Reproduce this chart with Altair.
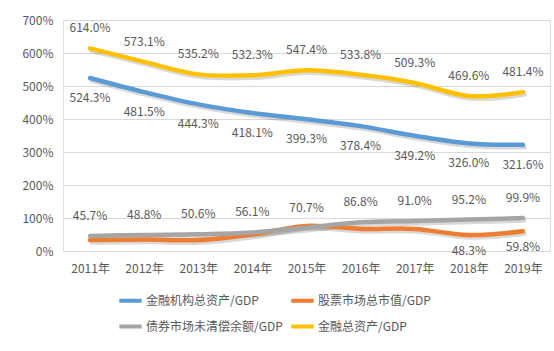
import altair as alt
import pandas as pd

years = ["2011年", "2012年", "2013年", "2014年", "2015年", "2016年", "2017年", "2018年", "2019年"]
series_names = ["金融机构总资产/GDP", "股票市场总市值/GDP", "债券市场未清偿余额/GDP", "金融总资产/GDP"]
colors = ["#5B9BD5", "#ED7D31", "#A5A5A5", "#FFC000"]

inst_assets = [524.3, 481.5, 444.3, 418.1, 399.3, 378.4, 349.2, 326.0, 321.6]
stock_cap = [33.0, 35.0, 33.0, 50.0, 76.0, 67.0, 67.0, 48.3, 59.8]
bond_out = [45.7, 48.8, 50.6, 56.1, 70.7, 86.8, 91.0, 95.2, 99.9]
fin_assets = [614.0, 573.1, 535.2, 532.3, 547.4, 533.8, 509.3, 469.6, 481.4]

# which points carry a data label
stock_labeled = [False] * 7 + [True, True]

rows = []
for name, vals, lab in [
    (series_names[0], inst_assets, [True] * 9),
    (series_names[1], stock_cap, stock_labeled),
    (series_names[2], bond_out, [True] * 9),
    (series_names[3], fin_assets, [True] * 9),
]:
    for y, v, l in zip(years, vals, lab):
        rows.append({"year": y, "series": name, "value": v, "labeled": l,
                     "text": f"{v:.1f}%"})
df = pd.DataFrame(rows)

# legend is laid out column by column, so order entries to read row-wise
legend_order = [series_names[0], series_names[2], series_names[1], series_names[3]]
legend_colors = [colors[0], colors[2], colors[1], colors[3]]

FONT = "Noto Sans CJK SC"
TXT = "#595959"

x = alt.X("year:N", sort=years, title=None,
          scale=alt.Scale(paddingInner=0, paddingOuter=0.5),
          axis=alt.Axis(labelAngle=0, labelFont=FONT, labelFontSize=12, labelColor=TXT,
                        domain=False, ticks=False, labelPadding=12, grid=False))
y = alt.Y("value:Q", title=None,
          scale=alt.Scale(domain=[0, 700], nice=False),
          axis=alt.Axis(values=[0, 100, 200, 300, 400, 500, 600, 700],
                        labelExpr="datum.value + '%'", labelFont=FONT, labelFontSize=12,
                        labelColor=TXT, domain=False, ticks=False, labelPadding=10,
                        grid=True, gridColor="#D9D9D9", gridWidth=1))

base = alt.Chart(df)

shadow = base.mark_line(interpolate="cardinal", strokeWidth=4.5, color="black",
                        opacity=0.15, xOffset=1.5, yOffset=2.5, strokeCap="round").encode(
    x=x, y=y, detail="series:N")

lines = base.mark_line(interpolate="cardinal", strokeWidth=4.5, strokeCap="round").encode(
    x=x, y=y,
    color=alt.Color("series:N",
                    scale=alt.Scale(domain=legend_order, range=legend_colors),
                    legend=alt.Legend(title=None, orient="none", legendX=54, legendY=267,
                                      columns=2, symbolType="stroke", symbolStrokeWidth=4,
                                      symbolSize=500, labelFont=FONT, labelFontSize=12,
                                      labelColor=TXT, rowPadding=4, columnPadding=0,
                                      labelOffset=2)),
)

above = base.transform_filter(
    "datum.series == '金融总资产/GDP' || datum.series == '债券市场未清偿余额/GDP'"
).mark_text(dy=-20, font=FONT, fontSize=12, color=TXT).encode(x=x, y=y, text="text:N")

below_inst = base.transform_filter(
    "datum.series == '金融机构总资产/GDP'"
).mark_text(dy=20, font=FONT, fontSize=12, color=TXT).encode(x=x, y=y, text="text:N")

below_stock = base.transform_filter(
    "datum.series == '股票市场总市值/GDP' && datum.labeled"
).mark_text(dy=16, font=FONT, fontSize=12, color=TXT).encode(x=x, y=y, text="text:N")

chart = alt.layer(shadow, lines, above, below_inst, below_stock).properties(
    width=487, height=231,
    autosize=alt.AutoSizeParams(type="none"),
    padding={"left": 63, "top": 20, "right": 4, "bottom": 100},
).configure_view(stroke=None).configure(background="white")

chart.save("out.html", embed_options={"renderer": "svg", "actions": False})
